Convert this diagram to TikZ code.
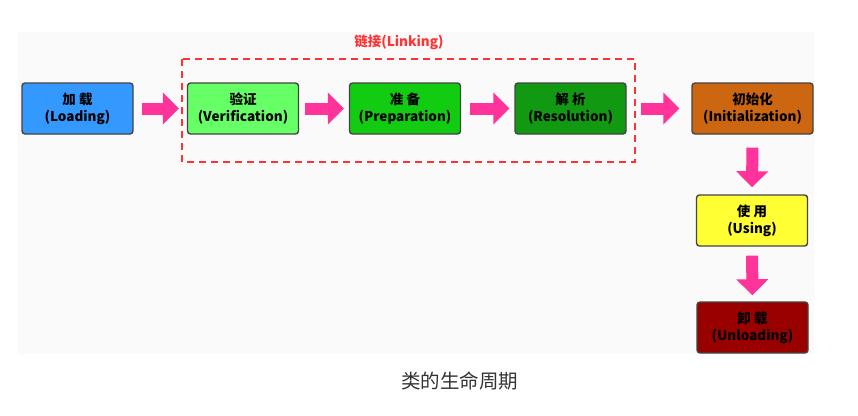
\documentclass[tikz,border=0pt]{standalone}
\usepackage{fontspec}
\setmainfont{Noto Sans CJK SC}
\usetikzlibrary{arrows.meta}
\definecolor{panelbg}{HTML}{FAFAFA}
\definecolor{cload}{HTML}{3399FF}
\definecolor{cverif}{HTML}{66FF66}
\definecolor{cprep}{HTML}{11CC11}
\definecolor{cres}{HTML}{119911}
\definecolor{cinit}{HTML}{CC6611}
\definecolor{cusing}{HTML}{FFFF33}
\definecolor{cunload}{HTML}{990000}
\definecolor{cborder}{HTML}{444444}
\definecolor{cpink}{HTML}{FF3399}
\definecolor{cdash}{HTML}{FF3333}
\definecolor{ccap}{HTML}{333333}
\tikzset{
  stagebox/.style={draw=cborder, line width=1.4pt, rounded corners=3pt,
    minimum width=111pt, minimum height=51pt, inner sep=0pt, align=center,
    font=\fontsize{13.5}{17}\selectfont\bfseries, text=black},
  blockarrow/.style={draw=cpink, line width=12pt,
    -{Triangle[length=16pt,width=31pt]}},
}
\begin{document}
\begin{tikzpicture}[x=1pt,y=-1pt]
\useasboundingbox (0,0) rectangle (858,415);
\fill[panelbg] (18,32) rectangle (814,354);
\node[stagebox, fill=cload] (load) at (77.5,108.5) {加 载\\(Loading)};
\node[stagebox, fill=cverif] (verif) at (243,108.5) {验证\\(Verification)};
\node[stagebox, fill=cprep] (prep) at (405,108.5) {准 备\\(Preparation)};
\node[stagebox, fill=cres] (res) at (570.5,108.5) {解 析\\(Resolution)};
\node[stagebox, fill=cinit, minimum width=121pt] (init) at (752.5,108.5) {初始化\\(Initialization)};
\node[stagebox, fill=cusing] (using) at (752,220.5) {使 用\\(Using)};
\node[stagebox, fill=cunload] (unload) at (752.5,327.5) {卸 载\\(Unloading)};
\draw[cdash, line width=1.6pt, dash pattern=on 7pt off 5pt] (182,59) rectangle (635,162);
\node[text=cdash, font=\fontsize{13.5}{15}\selectfont\bfseries] (linklabel) at (399,42) {链接(Linking)};
\draw[blockarrow, shorten <=8pt, shorten >=8pt] (load.east) -- (verif.west);
\draw[blockarrow, shorten <=6pt, shorten >=5pt] (verif.east) -- (prep.west);
\draw[blockarrow, shorten <=9pt, shorten >=5pt] (prep.east) -- (res.west);
\draw[blockarrow, shorten <=14pt, shorten >=12pt] (res.east) -- (init.west);
\draw[blockarrow, shorten <=13pt, shorten >=7pt] (init.south) -- (using.north);
\draw[blockarrow, shorten <=9pt, shorten >=6pt] (using.south) -- (unload.north);
\node[text=ccap, font=\fontsize{19.5}{22}\selectfont] (caption) at (459.5,381) {类的生命周期};
\end{tikzpicture}
\end{document}
